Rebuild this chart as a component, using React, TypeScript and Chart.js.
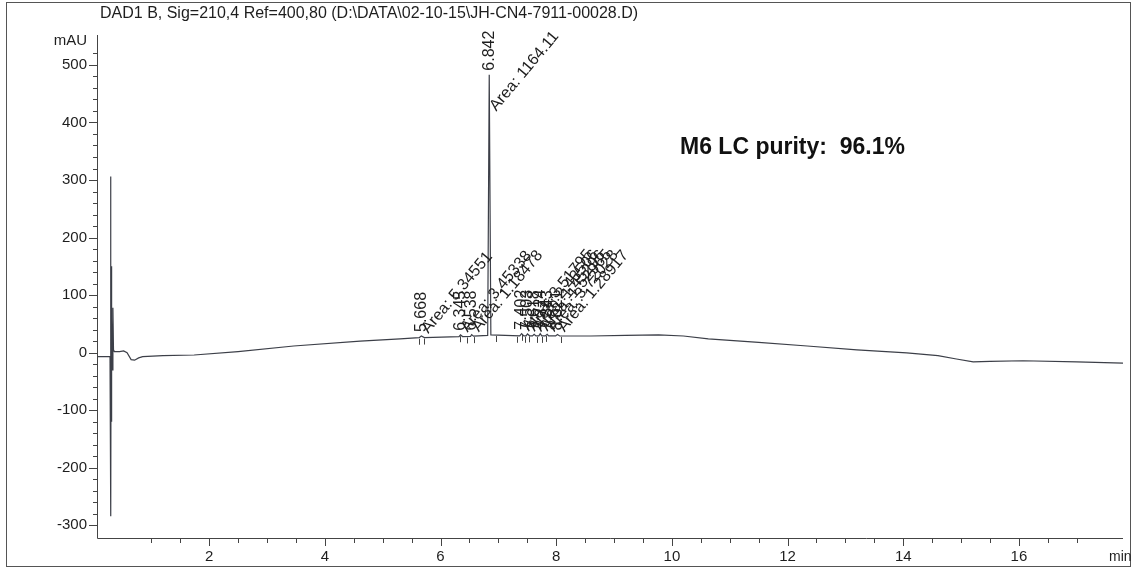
import React, { useEffect, useRef } from "react";
import { Chart, registerables } from "chart.js";

Chart.register(...registerables);

// Retention time (min) and detector signal (mAU)
const times = [
  0.06, 0.27, 0.285, 0.295, 0.3, 0.305, 0.31, 0.315, 0.325, 0.335, 0.345, 0.36,
  0.45, 0.52, 0.58, 0.65, 0.71, 0.78, 0.85, 1.2, 1.74, 2.5, 3.46, 4.61, 5.3,
  5.63, 5.668, 5.72, 6.32, 6.345, 6.38, 6.52, 6.538, 6.57, 6.815, 6.842, 6.87,
  7.37, 7.402, 7.44, 7.48, 7.503, 7.54, 7.59, 7.618, 7.65, 7.7, 7.724, 7.75,
  7.81, 7.843, 7.87, 7.99, 8.021, 8.06, 8.6, 9.2, 9.77, 10.2, 10.63, 11.5, 12.34,
  13.2, 14.06, 14.6, 14.92, 15.21, 15.5, 16.07, 17.0, 17.8,
];
const signal = [
  -7, -7, -7, 306, -284, 150, -120, 60, -30, 78, 5, 2,
  2, 3, 0, -12, -13, -9, -7, -5, -4, 2, 11.6, 20, 24,
  26, 29, 26.3, 27.8, 31, 28, 28.4, 31.5, 28.8, 30, 483, 31,
  29.2, 33, 29.3, 29.3, 32.5, 29.3, 29.3, 32, 29.2, 29.2, 33, 29.2,
  29.2, 32, 29.1, 29.1, 31.5, 29, 29, 30, 31, 29, 24, 18, 11.6,
  5, -0.5, -5, -11, -16, -15, -14, -16, -18,
];

// Integrated peaks
const peakTimes = [5.668, 6.345, 6.538, 6.842, 7.402, 7.503, 7.618, 7.724, 7.843, 8.021];
const peakLabels = ["5.668", "6.345", "6.538", "6.842", "7.402", "7.503", "7.618", "7.724", "7.843", "8.021"];
const areaLabels = [
  "Area: 5.34551", "Area: 3.45338", "Area: 1.18478", "Area: 1164.11", "Area: 3.51795",
  "Area: 2.43506", "Area: 1.45296", "Area: 1.52965", "Area: 3.72028", "Area: 1.28917",
];
// baseline start / end markers
const markerTimes = [5.63, 5.72, 6.34, 6.46, 6.57, 6.96, 7.33, 7.4, 7.46, 7.53, 7.66, 7.75, 7.83, 8.08];

const titleText = "DAD1 B, Sig=210,4 Ref=400,80 (D:\\DATA\\02-10-15\\JH-CN4-7911-00028.D)";
const purityText = "M6 LC purity:  96.1%";
const yUnit = "mAU";
const xUnit = "min";

const FONT = "'Liberation Sans', Arial, sans-serif";
const INK = "#1e1e1e";
const TRACE = "#3c3f48";

function valueAt(t: number): number {
  for (let i = 0; i < times.length - 1; i++) {
    if (t >= times[i] && t <= times[i + 1]) {
      const f = (t - times[i]) / (times[i + 1] - times[i]);
      return signal[i] + f * (signal[i + 1] - signal[i]);
    }
  }
  return signal[signal.length - 1];
}

const decorPlugin = {
  id: "decor",
  afterDraw(chart: any) {
    const ctx = chart.ctx as CanvasRenderingContext2D;
    const xs = chart.scales.x;
    const ys = chart.scales.y;
    const a = chart.chartArea;
    ctx.save();

    // outer frame
    ctx.strokeStyle = "#555";
    ctx.lineWidth = 1;
    ctx.strokeRect(6.5, 2.5, 1124, 564);

    // axes lines
    ctx.strokeStyle = "#444";
    ctx.beginPath();
    ctx.moveTo(a.left + 0.5, a.top);
    ctx.lineTo(a.left + 0.5, a.bottom + 0.5);
    ctx.lineTo(a.right, a.bottom + 0.5);
    ctx.stroke();

    // y tick marks
    ctx.beginPath();
    for (const t of ys.ticks) {
      const v = t.value;
      if (Math.abs(v / 20 - Math.round(v / 20)) > 1e-6) continue;
      const len = Math.abs(v % 100) < 1e-6 ? 8 : 4;
      const py = Math.round(ys.getPixelForValue(v)) + 0.5;
      ctx.moveTo(a.left - len, py);
      ctx.lineTo(a.left, py);
    }
    // x tick marks
    for (const t of xs.ticks) {
      const v = t.value;
      if (Math.abs(v * 2 - Math.round(v * 2)) > 1e-6) continue;
      const len = Math.abs(v % 2) < 1e-6 ? 8 : 5;
      const px = Math.round(xs.getPixelForValue(v)) + 0.5;
      ctx.moveTo(px, a.bottom);
      ctx.lineTo(px, a.bottom + len);
    }
    ctx.stroke();

    ctx.fillStyle = INK;
    // title
    ctx.font = `16px ${FONT}`;
    ctx.textAlign = "left";
    ctx.textBaseline = "middle";
    ctx.fillText(titleText, 100, 14);
    // units
    ctx.font = `15px ${FONT}`;
    ctx.textAlign = "right";
    ctx.fillText(yUnit, 87, 41);
    ctx.textAlign = "left";
    ctx.font = `14px ${FONT}`;
    ctx.fillText(xUnit, 1109, 557);

    // baseline markers
    ctx.strokeStyle = "#444";
    ctx.beginPath();
    for (const m of markerTimes) {
      const px = Math.round(xs.getPixelForValue(m)) + 0.5;
      const py = ys.getPixelForValue(valueAt(m));
      ctx.moveTo(px, py + 1);
      ctx.lineTo(px, py + 7);
    }
    ctx.stroke();

    // peak labels
    ctx.font = `16px ${FONT}`;
    peakTimes.forEach((pt, i) => {
      const px = xs.getPixelForValue(pt);
      const apex = ys.getPixelForValue(valueAt(pt));
      const big = a.bottom - apex > 250;
      // retention time, vertical
      ctx.save();
      ctx.translate(px, apex - 4);
      ctx.rotate(-Math.PI / 2);
      ctx.textAlign = "left";
      ctx.textBaseline = "middle";
      ctx.fillText(peakLabels[i], 0, 0);
      ctx.restore();
      // area, slanted
      ctx.save();
      ctx.translate(px + 7, big ? apex + 37 : apex - 2);
      ctx.rotate((-50 * Math.PI) / 180);
      ctx.textAlign = "left";
      ctx.textBaseline = "alphabetic";
      ctx.fillText(areaLabels[i], 0, 0);
      ctx.restore();
    });

    // purity annotation
    ctx.font = `bold 23px ${FONT}`;
    ctx.textAlign = "left";
    ctx.textBaseline = "middle";
    ctx.fillStyle = "#111";
    ctx.fillText(purityText, 680, 148);

    ctx.restore();
  },
};

export default function App() {
  const ref = useRef<HTMLCanvasElement | null>(null);
  useEffect(() => {
    document.body.style.margin = "0";
    const canvas = ref.current;
    if (!canvas) return;
    const chart = new Chart(canvas, {
      type: "line",
      data: {
        datasets: [
          {
            data: times.map((t, i) => ({ x: t, y: signal[i] })),
            borderColor: TRACE,
            borderWidth: 1.2,
            pointRadius: 0,
            tension: 0,
            fill: false,
          },
        ],
      },
      options: {
        animation: false,
        responsive: false,
        layout: { padding: { left: 0, right: 2, top: 35, bottom: 0 } },
        plugins: { legend: { display: false }, tooltip: { enabled: false }, title: { display: false } },
        scales: {
          x: {
            type: "linear",
            min: 0.06,
            max: 17.8,
            grid: { display: false, drawTicks: false },
            border: { display: false },
            ticks: {
              stepSize: 0.5,
              autoSkip: false,
              maxRotation: 0,
              padding: 10,
              color: INK,
              font: { family: FONT, size: 15 },
              callback: (v: any) => {
                const n = Number(v);
                return Math.abs(n % 2) < 1e-6 && n > 0 && n < 17 ? String(n) : "";
              },
            },
            afterFit: (s: any) => {
              s.height = 33;
            },
          },
          y: {
            type: "linear",
            min: -322,
            max: 552,
            grid: { display: false, drawTicks: false },
            border: { display: false },
            ticks: {
              stepSize: 20,
              autoSkip: false,
              padding: 10,
              color: INK,
              font: { family: FONT, size: 15 },
              callback: (v: any) => {
                const n = Number(v);
                return Math.abs(n % 100) < 1e-6 ? String(n) : "";
              },
            },
            afterFit: (s: any) => {
              s.width = 97;
            },
          },
        },
      },
      plugins: [decorPlugin],
    });
    return () => chart.destroy();
  }, []);
  return (
    <div style={{ position: "absolute", left: 0, top: 0, width: 1133, height: 571, background: "#fff" }}>
      <canvas ref={ref} width={1133} height={571} style={{ display: "block" }} />
    </div>
  );
}
